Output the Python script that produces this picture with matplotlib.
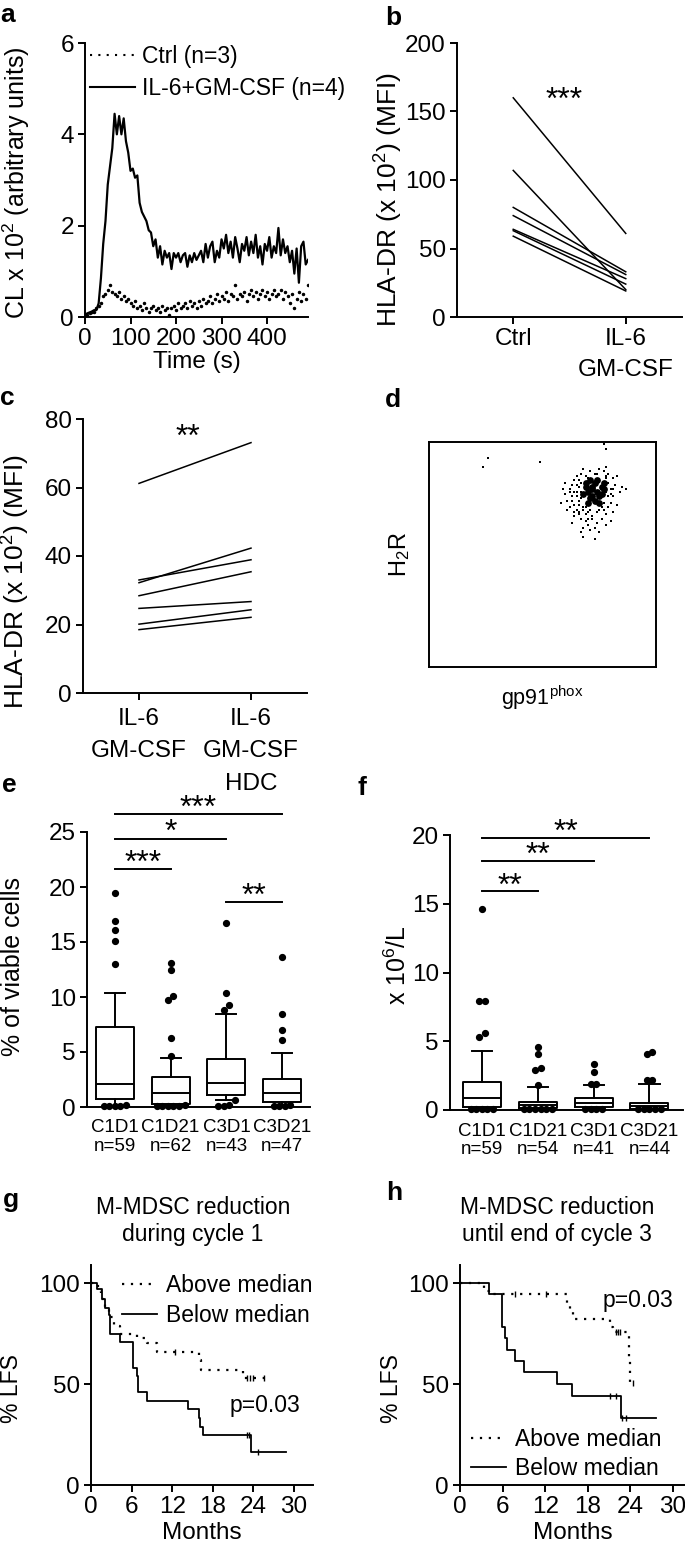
import numpy as np
import matplotlib
matplotlib.use("Agg")
import matplotlib.pyplot as plt
from matplotlib.lines import Line2D

plt.rcParams["font.family"] = ["Liberation Sans", "DejaVu Sans"]
plt.rcParams["mathtext.fontset"] = "custom"
plt.rcParams["mathtext.rm"] = "Liberation Sans"
plt.rcParams["mathtext.default"] = "regular"

# ---------------- data ----------------
# a: chemiluminescence traces, 5 s steps
a_time = np.arange(0, 495, 5)
a_il6 = [0.05, 0.08, 0.1, 0.12, 0.15, 0.15, 0.3, 0.85, 1.6, 2.1, 2.9, 3.3, 3.7, 4.45, 4.0,
         4.4, 4.0, 4.35, 3.85, 3.6, 3.2, 3.25, 3.05, 3.1, 2.5, 2.3, 2.2, 2.1, 1.9, 1.85,
         1.55, 1.7, 1.3, 1.55, 1.15, 1.45, 1.3, 1.4, 1.05, 1.4, 1.3, 1.4, 1.2, 1.35, 1.4,
         1.1, 1.35, 1.2, 1.4, 1.25, 1.35, 1.45, 1.2, 1.6, 1.3, 1.55, 1.65, 1.2, 1.45, 1.3,
         1.7, 1.5, 1.8, 1.4, 1.65, 1.3, 1.75, 1.5, 1.2, 1.6, 1.45, 1.75, 1.35, 1.65, 1.4,
         1.8, 1.3, 1.55, 1.15, 1.6, 1.45, 1.75, 1.3, 1.55, 1.4, 1.95, 1.35, 1.7, 1.4, 1.55,
         1.2, 1.45, 0.95, 1.5, 0.75, 1.55, 1.65, 1.15, 1.25]
a_ctrl = [0.05, 0.05, 0.08, 0.1, 0.12, 0.2, 0.25, 0.3, 0.45, 0.5, 0.6, 0.7, 0.55, 0.5, 0.45,
          0.55, 0.4, 0.45, 0.35, 0.4, 0.3, 0.25, 0.35, 0.2, 0.25, 0.15, 0.3, 0.2, 0.1, 0.2,
          0.25, 0.15, 0.2, 0.1, 0.25, 0.15, 0.2, 0.05, 0.2, 0.25, 0.15, 0.3, 0.2, 0.25, 0.3,
          0.2, 0.35, 0.25, 0.3, 0.2, 0.35, 0.25, 0.4, 0.3, 0.35, 0.45, 0.3, 0.4, 0.5, 0.35,
          0.45, 0.4, 0.55, 0.35, 0.5, 0.45, 0.7, 0.4, 0.5, 0.45, 0.55, 0.35, 0.5, 0.6, 0.45,
          0.55, 0.4, 0.5, 0.6, 0.45, 0.55, 0.4, 0.5, 0.6, 0.45, 0.5, 0.6, 0.4, 0.55, 0.45,
          0.3, 0.5, 0.2, 0.4, 0.55, 0.35, 0.5, 0.4, 0.7]

# b: HLA-DR paired
b_ctrl = [160, 107, 80, 74, 64, 63, 59]
b_il6 = [61, 20, 33, 31, 28, 24, 19]

# c: HLA-DR paired
c_il6 = [61.2, 33.0, 32.2, 28.4, 24.7, 20.1, 18.5]
c_hdc = [73.1, 38.9, 42.3, 35.4, 26.7, 24.3, 22.1]

# d: flow dot plot (percent of axis range)
d_core_x = [72, 74, 70, 73, 76, 71, 75, 69, 73, 77, 74, 71, 68, 70, 76, 72, 75, 69, 72, 77]
d_core_y = [80, 78, 78, 82, 80, 75, 76, 80, 74, 82, 83, 83, 77, 73, 77, 79, 73, 82, 76, 79]
d_dots_x = [62, 63, 61, 64, 60, 65, 66, 64, 67, 69, 70, 72, 74, 76, 78, 77, 79, 80, 81, 80,
            82, 81, 79, 77, 75, 73, 71, 69, 67, 66, 64, 63, 65, 68, 78, 83, 85, 84, 59, 58,
            61, 63, 68, 71, 75, 78, 81, 83, 66, 67, 68, 70, 79, 78, 77, 66, 65, 71, 76, 78,
            70, 67, 72, 74, 62, 60, 80, 73, 87, 68, 73, 26, 24, 49, 77, 78, 67,
            65, 66, 67, 64, 63, 68, 69, 79, 80, 78, 81, 75, 74, 70, 69, 66, 65, 62, 64]
d_dots_y = [79, 76, 74, 72, 77, 70, 68, 67, 66, 65, 63, 66, 64, 66, 68, 70, 71, 73, 76, 79,
            81, 84, 86, 87, 88, 86, 87, 85, 86, 83, 83, 81, 85, 88, 89, 85, 80, 78, 79, 73,
            70, 64, 62, 61, 60, 63, 69, 72, 74, 78, 71, 69, 76, 78, 73, 80, 78, 70, 71, 84,
            84, 82, 67, 69, 71, 82, 65, 62, 79, 58, 57, 93, 89, 91, 99, 97, 60,
            76, 72, 75, 78, 74, 70, 68, 82, 77, 85, 79, 70, 86, 66, 71, 69, 81, 78, 69]

# e: M-MDSC % of viable cells
e_labels = ["C1D1\nn=59", "C1D21\nn=62", "C3D1\nn=43", "C3D21\nn=47"]
e_q1 = [0.7, 0.3, 1.1, 0.5]
e_med = [2.1, 1.3, 2.2, 1.3]
e_q3 = [7.3, 2.75, 4.4, 2.55]
e_lo = [0.1, 0.1, 0.6, 0.1]
e_hi = [10.4, 4.45, 8.5, 4.9]
e_fliers = [[19.5, 16.9, 16.1, 15.1, 13.0, 0.1, 0.15, 0.1, 0.12, 0.1],
            [13.1, 12.5, 10.1, 9.7, 6.3, 4.6, 0.1, 0.1, 0.12, 0.1, 0.15, 0.1],
            [16.7, 10.4, 9.3, 8.8, 0.6, 0.15, 0.12, 0.1],
            [13.6, 8.5, 7.0, 6.1, 0.1, 0.12, 0.1, 0.15]]
e_sig = [(1, 4, 26.6, "***"), (1, 3, 24.4, "*"), (1, 2, 21.6, "***"), (3, 4, 18.6, "**")]

# f: M-MDSC x10^6/L
f_labels = ["C1D1\nn=59", "C1D21\nn=54", "C3D1\nn=41", "C3D21\nn=44"]
f_q1 = [0.24, 0.12, 0.24, 0.1]
f_med = [0.85, 0.35, 0.53, 0.3]
f_q3 = [2.04, 0.6, 0.9, 0.49]
f_lo = [0.07, 0.05, 0.07, 0.05]
f_hi = [4.29, 1.65, 1.8, 1.87]
f_fliers = [[14.6, 7.9, 7.9, 5.6, 5.3, 0.07, 0.07, 0.07, 0.07, 0.07],
            [4.6, 4.05, 3.03, 2.9, 1.84, 0.07, 0.07, 0.07, 0.07, 0.07, 0.07],
            [3.35, 2.76, 1.87, 1.87, 0.07, 0.07, 0.07, 0.07],
            [4.24, 4.07, 2.18, 2.18, 0.07, 0.07, 0.07, 0.07, 0.07]]
f_sig = [(1, 4, 19.8, "**"), (1, 3, 18.1, "**"), (1, 2, 15.9, "**")]

# g: LFS, reduction during cycle 1
g_below_t = [0, 0.9, 1.6, 2.1, 2.6, 2.85, 4.3, 6.2, 6.8, 7.0, 8.3, 14.3, 15.9, 16.1, 16.5, 23.6, 28.8]
g_below_s = [100, 97, 92, 87.6, 84, 75, 70.7, 58.2, 54.2, 46, 41.8, 37.5, 33, 28.9, 24.8, 16.5, 16.5]
g_below_cens_t = [23.0, 23.3, 24.7]
g_below_cens_s = [24.8, 24.8, 16.5]
g_above_t = [0, 1.0, 1.5, 2.0, 2.6, 3.4, 4.3, 6.8, 8.3, 9.7, 15.9, 16.3, 22.5, 25.5]
g_above_s = [100, 96, 92, 88, 83, 79, 75, 73, 70.5, 66, 62, 57, 53, 53]
g_above_cens_t = [12.4, 23.0, 23.5, 24.0, 25.5]
g_above_cens_s = [66, 53, 53, 53, 53]

# h: LFS, reduction until end of cycle 3
h_below_t = [0, 4.1, 5.9, 6.35, 6.65, 7.75, 9.0, 13.6, 15.75, 22.7, 27.55]
h_below_s = [100, 94.7, 78.5, 72.7, 66.9, 61.2, 56.2, 50.1, 44.3, 33.1, 33.1]
h_below_cens_t = [21.1, 22.0, 22.85, 23.4]
h_below_cens_s = [44.3, 44.3, 33.1, 33.1]
h_above_t = [0, 3.4, 4.1, 15.1, 15.5, 15.9, 21.1, 21.5, 23.8, 24.0, 24.4]
h_above_s = [100, 96, 94.7, 90, 86, 82, 78.5, 76, 63, 50.4, 50.4]
h_above_cens_t = [7.7, 12.1, 22.0, 22.3, 22.6, 24.4]
h_above_cens_s = [94.7, 94.7, 76, 76, 76, 50.4]

# ---------------- layout helpers ----------------
W, H = 685, 1549
fig = plt.figure(figsize=(W / 100, H / 100), dpi=100)

LW = 1.4
TICK = 17.5      # tick labels
LEG = 16.5       # legends, titles, p values
STAR = 23


def add_ax(left, top, right, bottom):
    return fig.add_axes([left / W, 1 - bottom / H, (right - left) / W, (bottom - top) / H])


def prism(ax, fs=TICK):
    for s in ("top", "right"):
        ax.spines[s].set_visible(False)
    for s in ("left", "bottom"):
        ax.spines[s].set_linewidth(LW)
    ax.tick_params(direction="out", length=5, width=LW, labelsize=fs, pad=3)


def ylab(ax, text, right_px, center_frac, left_px, width_px, fs=18):
    ax.set_ylabel(text, fontsize=fs)
    ax.yaxis.set_label_coords((right_px - left_px) / width_px, center_frac)


def panel_label(letter, x, y):
    fig.text(x / W, 1 - y / H, letter, fontsize=19, fontweight="bold", va="baseline", ha="left")


def spread(values, thr, step):
    vals = sorted(values)
    groups = []
    for v in vals:
        if groups and v - groups[-1][-1] < thr:
            groups[-1].append(v)
        else:
            groups.append([v])
    xs, ys = [], []
    for g in groups:
        n = len(g)
        xs.extend((np.arange(n) - (n - 1) / 2) * step)
        ys.extend(g)
    return np.array(xs), np.array(ys)


dotted = (0, (1, 3))

# ---------------- a ----------------
ax = add_ax(85, 43, 308, 317)
prism(ax)
ax.plot(a_time, a_il6, color="k", lw=1.6)
ax.plot(a_time, a_ctrl, ls="none", marker="o", ms=1.5, color="k")
ax.set_xlim(0, 490)
ax.set_ylim(0, 6)
ax.set_xticks([0, 100, 200, 300, 400])
ax.set_yticks([0, 2, 4, 6])
ax.set_xlabel("Time (s)", fontsize=17.5, labelpad=0.5)
ylab(ax, "CL x 10$^{2}$ (arbitrary units)", 32, 0.49, 85, 223)
handles = [Line2D([], [], color="k", lw=1.5, ls=dotted), Line2D([], [], color="k", lw=1.5)]
ax.legend(handles, ["Ctrl (n=3)", "IL-6+GM-CSF (n=4)"], loc="upper left", bbox_to_anchor=(0.0, 1.01),
          frameon=False, fontsize=LEG, handlelength=2.0, handletextpad=0.3, labelspacing=0.4,
          borderaxespad=0, borderpad=0.2)
panel_label("a", 0, 22)

# ---------------- b ----------------
ax = add_ax(457, 43, 682, 317)
prism(ax)
for v0, v1 in zip(b_ctrl, b_il6):
    ax.plot([0, 1], [v0, v1], color="k", lw=1.1)
ax.set_xlim(-0.5, 1.5)
ax.set_ylim(0, 200)
ax.set_yticks([0, 50, 100, 150, 200])
ax.set_xticks([0, 1])
ax.set_xticklabels(["Ctrl", "IL-6\nGM-CSF"], linespacing=1.5)
ax.text(0.45, 158, "***", fontsize=STAR, ha="center", va="center")
ylab(ax, "HLA-DR (x 10$^{2}$) (MFI)", 405, 0.427, 457, 225, fs=19)
panel_label("b", 385, 25)

# ---------------- c ----------------
ax = add_ax(83, 419, 307, 693)
prism(ax)
for v0, v1 in zip(c_il6, c_hdc):
    ax.plot([0, 1], [v0, v1], color="k", lw=1.1)
ax.set_xlim(-0.5, 1.5)
ax.set_ylim(0, 80)
ax.set_yticks([0, 20, 40, 60, 80])
ax.set_xticks([0, 1])
ax.set_xticklabels(["IL-6\nGM-CSF", "IL-6\nGM-CSF\nHDC"], linespacing=1.6, va="top")
ax.tick_params(axis="x", pad=6)
ax.text(0.44, 74.5, "**", fontsize=STAR, ha="center", va="center")
ylab(ax, "HLA-DR (x 10$^{2}$) (MFI)", 32, 0.405, 83, 224, fs=19)
panel_label("c", 0, 405)

# ---------------- d ----------------
ax = add_ax(429, 442, 656, 667)
ax.scatter(d_dots_x, d_dots_y, s=2.0, color="k", marker="s", linewidths=0)
ax.scatter(d_core_x, d_core_y, s=24, color="k", marker="o", linewidths=0)
ax.set_xlim(0, 100)
ax.set_ylim(0, 100)
ax.set_xticks([])
ax.set_yticks([])
for s in ax.spines.values():
    s.set_linewidth(LW)
ax.set_xlabel("gp91$^{phox}$", fontsize=15.5, labelpad=12)
ylab(ax, "H$_{2}$R", 412, 0.5, 429, 227, fs=17)
panel_label("d", 385, 407)


# ---------------- e / f boxplots ----------------
def box_panel(ax, labels, q1, med, q3, lo, hi, fliers, sig, thr, ymax, star_dy):
    prism(ax)
    stats = [dict(med=m, q1=a, q3=b, whislo=l, whishi=h, fliers=[])
             for a, m, b, l, h in zip(q1, med, q3, lo, hi)]
    pos = np.arange(1, len(stats) + 1)
    lp = dict(color="k", lw=LW)
    ax.bxp(stats, positions=pos, widths=0.68, capwidths=0.36, showfliers=False,
           boxprops=lp, medianprops=lp, whiskerprops=lp, capprops=lp)
    for p, fl in zip(pos, fliers):
        dx, yy = spread(fl, thr, 0.1)
        ax.plot(p + dx, yy, ls="none", marker="o", ms=4.2, color="k", clip_on=False, zorder=3)
    for x0, x1, y, txt in sig:
        ax.plot([x0, x1], [y, y], color="k", lw=LW, clip_on=False)
        ax.text((x0 + x1) / 2, y + star_dy, txt, fontsize=STAR, ha="center", va="center")
    ax.set_xticks(pos)
    ax.set_xticklabels(labels, fontsize=13.5, linespacing=1.15)
    ax.tick_params(axis="x", length=0, pad=9)
    ax.set_ylim(0, ymax)


ax = add_ax(87, 832, 310, 1107)
box_panel(ax, e_labels, e_q1, e_med, e_q3, e_lo, e_hi, e_fliers, e_sig, 0.55, 25, 0.5)
ax.set_xlim(0.5, 4.5)
ax.set_yticks([0, 5, 10, 15, 20, 25])
ylab(ax, "% of viable cells", 25, 0.51, 87, 223)
panel_label("e", 2, 792)

ax = add_ax(450, 835, 683, 1110)
box_panel(ax, f_labels, f_q1, f_med, f_q3, f_lo, f_hi, f_fliers, f_sig, 0.4, 20, 0.35)
ax.set_xlim(0.43, 4.6)
ax.set_yticks([0, 5, 10, 15, 20])
ylab(ax, "x 10$^{6}$/L", 411, 0.527, 450, 233)
panel_label("f", 357, 795)


# ---------------- g / h survival ----------------
def km_panel(ax, above, below, xmax):
    prism(ax)
    (at, a_s, act, acs) = above
    (bt, b_s, bct, bcs) = below
    ax.step(at, a_s, where="post", color="k", lw=1.6, ls=dotted)
    ax.step(bt, b_s, where="post", color="k", lw=1.3)
    ax.plot(act, acs, ls="none", marker="|", ms=4, mew=1.0, color="k")
    ax.plot(bct, bcs, ls="none", marker="|", ms=4, mew=1.0, color="k")
    ax.set_xlim(0, xmax)
    ax.set_ylim(0, 109)
    ax.set_xticks([0, 6, 12, 18, 24, 30])
    ax.set_yticks([0, 50, 100])
    ax.set_xlabel("Months", fontsize=17.5, labelpad=3)


km_handles = [Line2D([], [], color="k", lw=1.6, ls=dotted), Line2D([], [], color="k", lw=1.3)]
km_names = ["Above median", "Below median"]

ax = add_ax(91, 1265, 313, 1485)
km_panel(ax, (g_above_t, g_above_s, g_above_cens_t, g_above_cens_s),
         (g_below_t, g_below_s, g_below_cens_t, g_below_cens_s), 32.8)
ax.legend(km_handles, km_names, loc="upper left", bbox_to_anchor=(0.12, 0.98), frameon=False,
          fontsize=LEG, handlelength=1.5, handletextpad=0.4, labelspacing=0.3, borderaxespad=0,
          borderpad=0.2)
ax.text(25.7, 39.6, "p=0.03", fontsize=LEG, ha="center", va="center")
ylab(ax, "% LFS", 23, 0.44, 91, 222, fs=16.5)
fig.text(193 / W, 1 - 1221 / H, "M-MDSC reduction\nduring cycle 1", fontsize=LEG,
         ha="center", va="center", linespacing=1.2)
panel_label("g", 3, 1207)

ax = add_ax(460, 1265, 685, 1485)
km_panel(ax, (h_above_t, h_above_s, h_above_cens_t, h_above_cens_s),
         (h_below_t, h_below_s, h_below_cens_t, h_below_cens_s), 31.7)
ax.legend(km_handles, km_names, loc="lower left", bbox_to_anchor=(0.03, 0.0), frameon=False,
          fontsize=LEG, handlelength=1.5, handletextpad=0.4, labelspacing=0.3, borderaxespad=0,
          borderpad=0.2)
ax.text(25.0, 91.6, "p=0.03", fontsize=LEG, ha="center", va="center")
ylab(ax, "% LFS", 403, 0.44, 460, 225, fs=16.5)
fig.text(557 / W, 1 - 1221 / H, "M-MDSC reduction\nuntil end of cycle 3", fontsize=LEG,
         ha="center", va="center", linespacing=1.2)
panel_label("h", 386, 1200)

fig.savefig("out.png", dpi=100)
